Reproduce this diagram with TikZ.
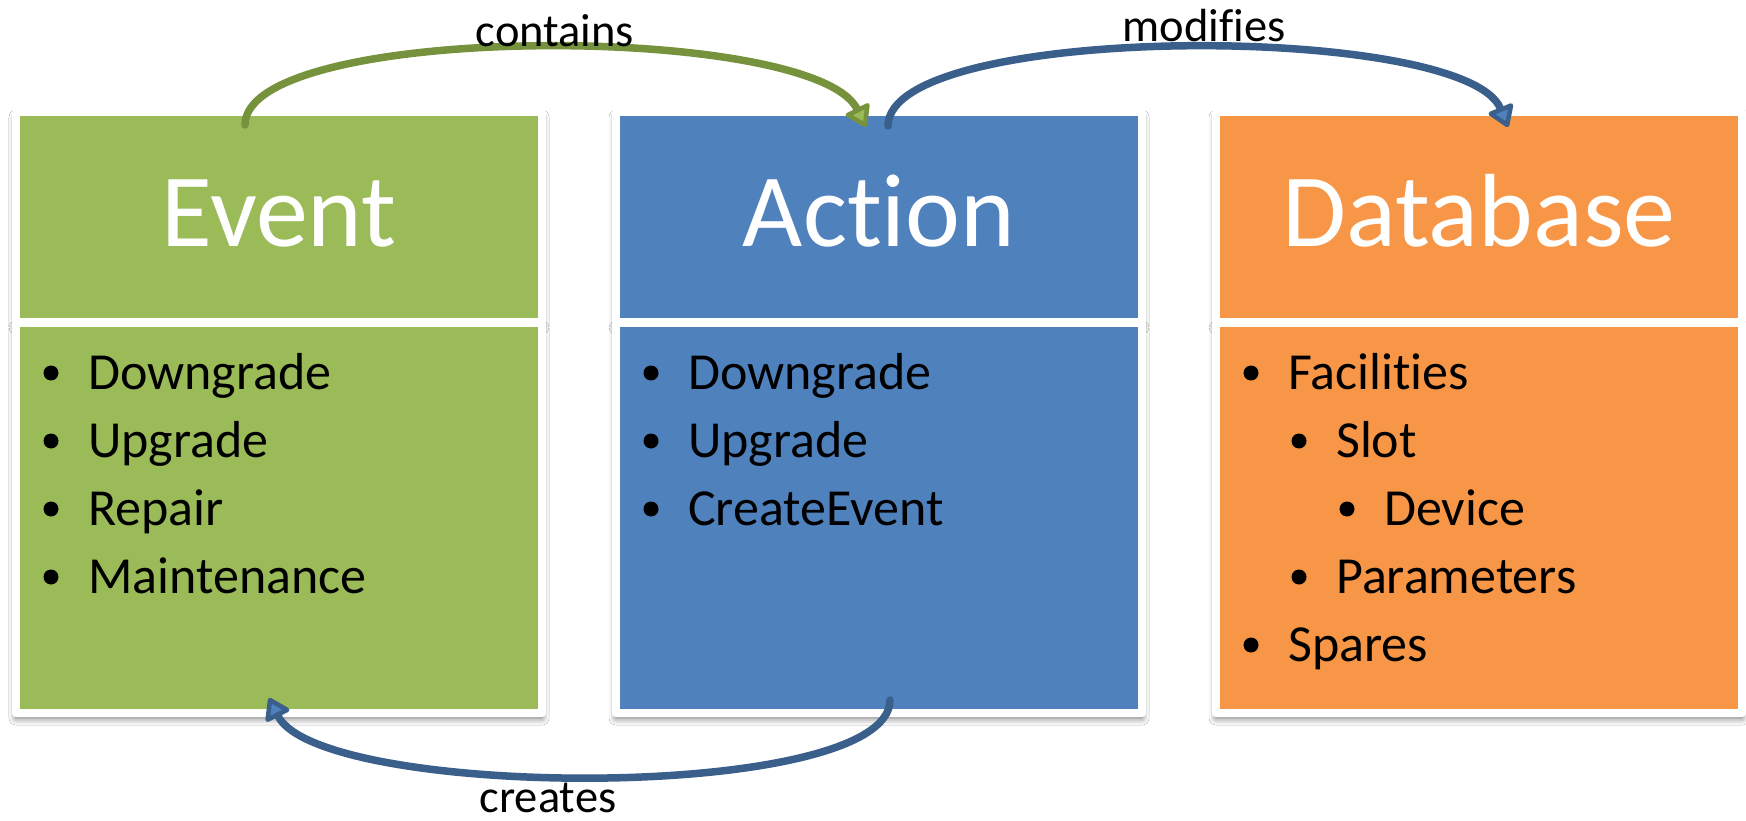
\documentclass[tikz,border=0pt]{standalone}
\usepackage{fontspec}
\setmainfont{Carlito}[Ligatures=NoCommon]
\usetikzlibrary{arrows.meta,shadows.blur}
\definecolor{cgreen}{HTML}{9BBB59}
\definecolor{cgreenD}{HTML}{76923C}
\definecolor{cblue}{HTML}{4F81BD}
\definecolor{cblueD}{HTML}{3A5F8B}
\definecolor{corange}{HTML}{F79646}
% one bullet line: name, bullet x, baseline y, text
\newcommand\listitem[4]{%
  \node[dot] (#1-dot) at (#2, #3-16) {};
  \node[item] (#1) at (#2+37, #3) {#4};}
\begin{document}
\begin{tikzpicture}[x=1pt,y=-1pt,
  panel/.style={draw=white, line width=8pt, line join=round, minimum width=526pt,
    inner sep=0pt, outer sep=0pt,
    blur shadow={shadow xshift=0pt, shadow yshift=-5pt, shadow blur radius=7pt, shadow opacity=60}},
  head/.style={panel, minimum height=210pt, text=white,
    font=\fontsize{104}{104}\selectfont, text height=60pt, text depth=0pt},
  body/.style={panel, minimum height=390pt},
  item/.style={anchor=base west, inner sep=0pt, font=\fontsize{52}{52}\selectfont},
  dot/.style={circle, fill=black, inner sep=0pt, minimum size=15pt},
  flow/.style={line width=7.5pt, line cap=round},
  tipg/.style={-{Triangle[length=23pt,width=29pt,fill=cgreen,line width=4.5pt,round]}},
  tipb/.style={-{Triangle[length=23pt,width=29pt,fill=cblue,line width=4.5pt,round]}},
  lbl/.style={inner sep=0pt, anchor=base, font=\fontsize{46.5}{46.5}\selectfont}
]
\useasboundingbox[fill=white] (0,0) rectangle (1746,821);

% three columns: title panel above list panel
\node[head, fill=cgreen] (evH) at (279,217) {Event};
\node[body, fill=cgreen] (evB) at (279,518) {};
\node[head, fill=cblue] (acH) at (879,217) {Action};
\node[body, fill=cblue] (acB) at (879,518) {};
\node[head, fill=corange] (dbH) at (1479,217) {Database};
\node[body, fill=corange] (dbB) at (1479,518) {};

% event list
\listitem{ev1}{51}{389}{Downgrade}
\listitem{ev2}{51}{457}{Upgrade}
\listitem{ev3}{51}{525}{Repair}
\listitem{ev4}{51}{593}{Maintenance}

% action list
\listitem{ac1}{651}{389}{Downgrade}
\listitem{ac2}{651}{457}{Upgrade}
\listitem{ac3}{651}{525}{CreateEvent}

% database tree
\listitem{db1}{1251}{389}{Facilities}
\listitem{db2}{1299}{457}{Slot}
\listitem{db3}{1347}{525}{Device}
\listitem{db4}{1299}{593}{Parameters}
\listitem{db5}{1251}{661}{Spares}

% connector ends
\coordinate (ev-top) at (245,125);
\coordinate (ac-topin) at (866,127);
\coordinate (ac-top) at (888,126);
\coordinate (db-topin) at (1508,127);
\coordinate (ac-bot) at (890,700);
\coordinate (ev-botin) at (269,698);

\draw[flow, draw=cgreenD, tipg]
  (ev-top) .. controls +(0,-103) and +(-52,-105) .. (ac-topin);
\node[lbl] (lc) at (555,47) {contains};

\draw[flow, draw=cblueD, tipb]
  (ac-top) .. controls +(0,-104) and +(-43,-105) .. (db-topin);
\node[lbl] (lm) at (1204,42) {modifies};

\draw[flow, draw=cblueD, tipb]
  (ac-bot) .. controls +(0,103) and +(51,102) .. (ev-botin);
\node[lbl] (lr) at (548,812) {creates};
\end{tikzpicture}
\end{document}
